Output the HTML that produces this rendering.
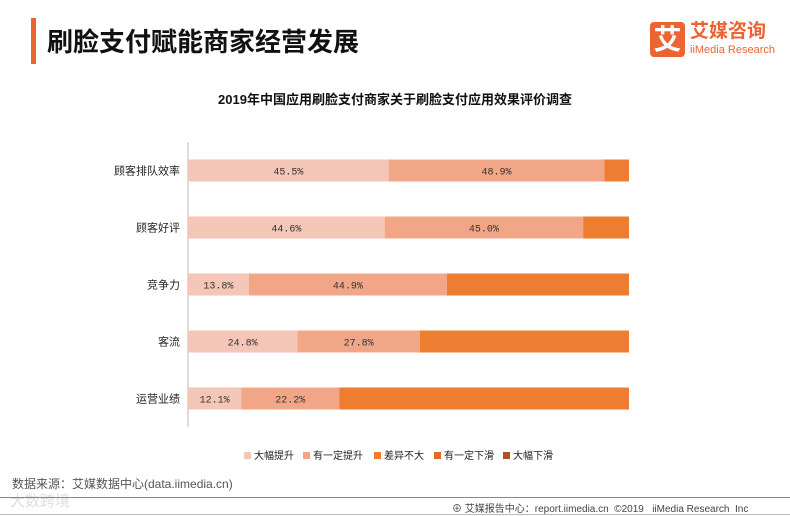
<!DOCTYPE html>
<html><head><meta charset="utf-8"><style>
body{margin:0;width:790px;height:516px;background:#fff;position:relative;overflow:hidden;font-family:"Liberation Sans","Noto Sans CJK SC",sans-serif;}
.abs{position:absolute;}
</style></head><body>
<div class="abs" style="left:31px;top:18px;width:5px;height:46px;background:#EB6432"></div>
<div class="abs" style="left:47px;top:22px;font-size:26px;font-weight:bold;color:#111;letter-spacing:0px">刷脸支付赋能商家经营发展</div>
<div class="abs" style="left:650px;top:22px;width:35px;height:35px;background:#EB6432;border-radius:4px;color:#fff;font-size:28px;font-weight:bold;text-align:center;line-height:35px">艾</div>
<div class="abs" style="left:690px;top:21px;font-size:19px;font-weight:bold;color:#EB6432;line-height:22px">艾媒咨询</div>
<div class="abs" style="left:690px;top:44px;font-size:11px;color:#EB6432">iiMedia Research</div>
<div class="abs" style="left:0;width:790px;top:89px;text-align:center;font-size:13px;font-weight:bold;color:#111">2019年中国应用刷脸支付商家关于刷脸支付应用效果评价调查</div>
<svg class="abs" style="left:0;top:0" width="790" height="516" id="chart"></svg>
<div class="abs" style="left:12px;top:475px;font-size:12px;color:#555">数据来源：艾媒数据中心(data.iimedia.cn)</div>
<div class="abs" style="left:10px;top:490px;font-size:15px;color:#ddd">大数跨境</div>
<div class="abs" style="left:0;top:497px;width:790px;height:1px;background:#888"></div>
<div class="abs" style="left:452px;top:500px;font-size:10px;color:#444;white-space:nowrap">⊕ 艾媒报告中心：report.iimedia.cn &nbsp;©2019 &nbsp; iiMedia Research &nbsp;Inc</div>
<div class="abs" style="left:0;top:514px;width:790px;height:1px;background:#bbb"></div>
<script>
const categories=["顾客排队效率","顾客好评","竞争力","客流","运营业绩"];
const seriesNames=["大幅提升","有一定提升","差异不大","有一定下滑","大幅下滑"];
const bigUp=[45.5,44.6,13.8,24.8,12.1];
const someUp=[48.9,45.0,44.9,27.8,22.2];
const noDiff=[5.6,10.4,41.3,47.4,65.7];
const someDown=[0,0,0,0,0];
const bigDown=[0,0,0,0,0];
const colors=["#F4C6B7","#F0A687","#ED7D31","#E06A28","#A85428"];
const series=[bigUp,someUp,noDiff,someDown,bigDown];
const svg=document.getElementById('chart');
const NS="http://www.w3.org/2000/svg";
const x0=188,x1=629,y0=142,bandH=57,barH=22;
const xs=v=>x0+(x1-x0)*v/100;
const yc=i=>y0+bandH*i+bandH/2;
function mk(t,a){const e=document.createElementNS(NS,t);for(const k in a)e.setAttribute(k,a[k]);svg.appendChild(e);return e;}
const ax=mk('line',{x1:x0,x2:x0,y1:y0,y2:y0+bandH*categories.length,stroke:'#bbb'});


categories.forEach((c,i)=>{
  const t=mk('text',{x:x0-8,y:yc(i)+4,'text-anchor':'end','font-size':11,fill:'#222'});
  t.textContent=c;
  
  
  let acc=0;
  series.forEach((s,j)=>{
    const v=s[i]; if(v<=0){return;}
    const r=mk('rect',{x:xs(acc),y:yc(i)-barH/2,width:xs(acc+v)-xs(acc),height:barH,fill:colors[j]});
    
    
    if(j<2){
      const l=mk('text',{x:(xs(acc)+xs(acc+v))/2,y:yc(i)+4,'text-anchor':'middle','font-size':10,fill:'#333','font-family':'Liberation Mono,monospace'});
      l.textContent=v.toFixed(1)+'%';
      
      
    }
    acc+=v;
  });
});
const lx=[244,303,374,434,503];
seriesNames.forEach((n,j)=>{
  const r=mk('rect',{x:lx[j],y:452,width:7,height:7,fill:colors[j]});
  
  
  const t=mk('text',{x:lx[j]+10,y:459,'font-size':10,fill:'#222'});
  t.textContent=n;
  
  
});
</script>
</body></html>
